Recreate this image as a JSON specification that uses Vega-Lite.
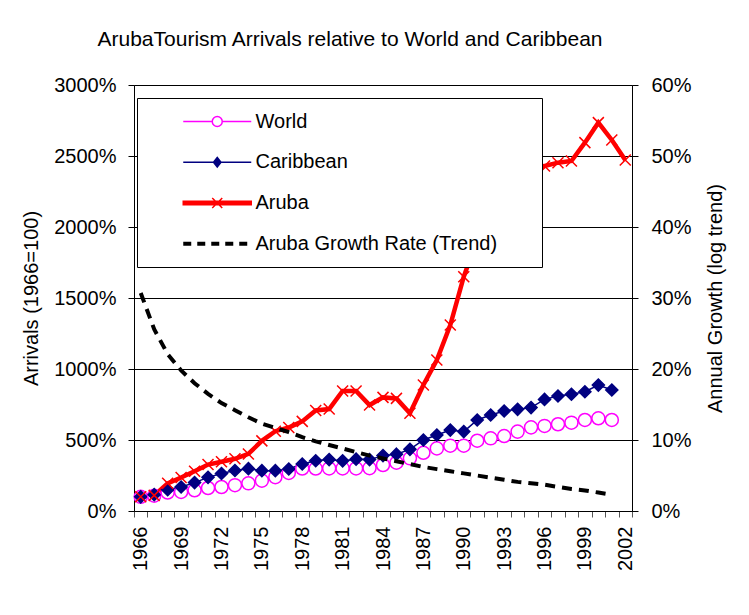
{
  "$schema": "https://vega.github.io/schema/vega-lite/v6.json",
  "width": 498,
  "height": 426,
  "autosize": {"type": "none"},
  "padding": {"left": 134, "top": 85, "right": 117, "bottom": 104},
  "background": "white",
  "title": {
    "text": "ArubaTourism Arrivals relative to World and  Caribbean",
    "fontSize": 21,
    "fontWeight": "normal",
    "color": "#000000",
    "anchor": "middle",
    "dx": -33,
    "offset": 25
  },
  "datasets": {
    "arrivals": [
      {"year": 1966, "World": 100, "Caribbean": 100, "Aruba": 100},
      {"year": 1967, "World": 108, "Caribbean": 115, "Aruba": 110},
      {"year": 1968, "World": 130, "Caribbean": 150, "Aruba": 195},
      {"year": 1969, "World": 134, "Caribbean": 169, "Aruba": 236},
      {"year": 1970, "World": 146, "Caribbean": 200, "Aruba": 280},
      {"year": 1971, "World": 162, "Caribbean": 237, "Aruba": 327},
      {"year": 1972, "World": 169, "Caribbean": 264, "Aruba": 347},
      {"year": 1973, "World": 182, "Caribbean": 285, "Aruba": 368},
      {"year": 1974, "World": 195, "Caribbean": 298, "Aruba": 402},
      {"year": 1975, "World": 214, "Caribbean": 284, "Aruba": 494},
      {"year": 1976, "World": 238, "Caribbean": 284, "Aruba": 562},
      {"year": 1977, "World": 268, "Caribbean": 296, "Aruba": 588},
      {"year": 1978, "World": 299, "Caribbean": 331, "Aruba": 631},
      {"year": 1979, "World": 299, "Caribbean": 354, "Aruba": 708},
      {"year": 1980, "World": 300, "Caribbean": 362, "Aruba": 718},
      {"year": 1981, "World": 300, "Caribbean": 353, "Aruba": 845},
      {"year": 1982, "World": 300, "Caribbean": 365, "Aruba": 845},
      {"year": 1983, "World": 302, "Caribbean": 362, "Aruba": 746},
      {"year": 1984, "World": 324, "Caribbean": 390, "Aruba": 800},
      {"year": 1985, "World": 340, "Caribbean": 400, "Aruba": 793},
      {"year": 1986, "World": 371, "Caribbean": 434, "Aruba": 688},
      {"year": 1987, "World": 410, "Caribbean": 500, "Aruba": 887},
      {"year": 1988, "World": 441, "Caribbean": 535, "Aruba": 1063},
      {"year": 1989, "World": 460, "Caribbean": 570, "Aruba": 1310},
      {"year": 1990, "World": 460, "Caribbean": 559, "Aruba": 1650},
      {"year": 1991, "World": 495, "Caribbean": 641, "Aruba": 1913},
      {"year": 1992, "World": 512, "Caribbean": 676, "Aruba": 2054},
      {"year": 1993, "World": 528, "Caribbean": 704, "Aruba": 2131},
      {"year": 1994, "World": 559, "Caribbean": 716, "Aruba": 2213},
      {"year": 1995, "World": 589, "Caribbean": 728, "Aruba": 2338},
      {"year": 1996, "World": 599, "Caribbean": 786, "Aruba": 2430},
      {"year": 1997, "World": 611, "Caribbean": 810, "Aruba": 2453},
      {"year": 1998, "World": 622, "Caribbean": 822, "Aruba": 2465},
      {"year": 1999, "World": 641, "Caribbean": 840, "Aruba": 2594},
      {"year": 2000, "World": 653, "Caribbean": 887, "Aruba": 2735},
      {"year": 2001, "World": 641, "Caribbean": 852, "Aruba": 2613},
      {"year": 2002, "Aruba": 2472}
    ],
    "trend": [
      {"year": 1966, "growth": 30.7},
      {"year": 1967, "growth": 25.6},
      {"year": 1968, "growth": 22.1},
      {"year": 1969, "growth": 19.8},
      {"year": 1970, "growth": 18.0},
      {"year": 1971, "growth": 16.5},
      {"year": 1972, "growth": 15.2},
      {"year": 1973, "growth": 14.2},
      {"year": 1974, "growth": 13.2},
      {"year": 1975, "growth": 12.3},
      {"year": 1976, "growth": 11.7},
      {"year": 1977, "growth": 11.1},
      {"year": 1978, "growth": 10.4},
      {"year": 1979, "growth": 9.8},
      {"year": 1980, "growth": 9.3},
      {"year": 1981, "growth": 8.8},
      {"year": 1982, "growth": 8.3},
      {"year": 1983, "growth": 7.8},
      {"year": 1984, "growth": 7.4},
      {"year": 1985, "growth": 7.0},
      {"year": 1986, "growth": 6.6},
      {"year": 1987, "growth": 6.2},
      {"year": 1988, "growth": 5.9},
      {"year": 1989, "growth": 5.6},
      {"year": 1990, "growth": 5.3},
      {"year": 1991, "growth": 5.0},
      {"year": 1992, "growth": 4.7},
      {"year": 1993, "growth": 4.4},
      {"year": 1994, "growth": 4.1},
      {"year": 1995, "growth": 3.9},
      {"year": 1996, "growth": 3.7},
      {"year": 1997, "growth": 3.4},
      {"year": 1998, "growth": 3.1},
      {"year": 1999, "growth": 2.9},
      {"year": 2000, "growth": 2.6},
      {"year": 2001, "growth": 2.3}
    ]
  },
  "encoding": {
    "x": {
      "field": "year",
      "type": "ordinal",
      "bandPosition": 0.5,
      "scale": {
        "type": "band",
        "domain": [1966, 1967, 1968, 1969, 1970, 1971, 1972, 1973, 1974, 1975, 1976, 1977, 1978, 1979, 1980, 1981, 1982, 1983, 1984, 1985, 1986, 1987, 1988, 1989, 1990, 1991, 1992, 1993, 1994, 1995, 1996, 1997, 1998, 1999, 2000, 2001, 2002],
        "paddingInner": 0,
        "paddingOuter": 0
      },
      "axis": {
        "title": null,
        "tickBand": "extent",
        "labelAngle": 270,
        "labelExpr": "(datum.value - 1966) % 3 === 0 ? datum.label : ''",
        "labelOverlap": false,
        "labelPadding": 9,
        "tickSize": 6,
        "tickColor": "#555555",
        "domainColor": "#000000",
        "grid": false
      }
    }
  },
  "layer": [
    {
      "data": {"name": "arrivals"},
      "transform": [
        {"fold": ["World", "Caribbean", "Aruba"], "as": ["series", "value"]},
        {"filter": "isValid(datum.value)"}
      ],
      "encoding": {
        "y": {
          "field": "value",
          "type": "quantitative",
          "scale": {"domain": [0, 3000], "nice": false},
          "axis": {
            "title": "Arrivals (1966=100)",
            "values": [0, 500, 1000, 1500, 2000, 2500, 3000],
            "labelExpr": "datum.value + '%'",
            "grid": true,
            "gridColor": "#000000",
            "gridWidth": 1,
            "domainColor": "#000000",
            "tickColor": "#000000",
            "tickSize": 6,
            "labelPadding": 12,
            "titlePadding": 12
          }
        },
        "color": {
          "field": "series",
          "type": "nominal",
          "scale": {
            "domain": ["World", "Caribbean", "Aruba", "Aruba Growth Rate (Trend)"],
            "range": ["#ff00ff", "#000080", "#ff0000", "#000000"]
          },
          "legend": {
            "title": null,
            "orient": "none",
            "legendX": 3,
            "legendY": 13,
            "padding": 12.5,
            "fillColor": "#ffffff",
            "strokeColor": "#000000",
            "symbolSize": 400,
            "symbolOffset": 56.75,
            "symbolStrokeWidth": 1.5,
            "labelOffset": 27.25,
            "labelFontSize": 20,
            "labelColor": "#000000",
            "labelLimit": 600,
            "rowPadding": 19.75,
            "zindex": 1,
            "encode": {
              "symbols": {
                "update": {
                  "shape": {"signal": "datum.value === 'World' ? 'M-3.4,0H-0.5M0.5,0H3.4M-0.5,0A0.5,0.5 0 1,0 0.5,0A0.5,0.5 0 1,0 -0.5,0ZM30.9,0' : datum.value === 'Caribbean' ? 'M-3.4,0H3.4M0,-0.476L0.374,0L0,0.476L-0.374,0ZM30.9,0' : datum.value === 'Aruba' ? 'M-3.4,-0.175H3.4V0.175H-3.4ZM-0.5,-0.5L0.5,0.5M-0.5,0.5L0.5,-0.5M30.9,0' : 'M-3.325,-0.126H-2.676V0.126H-3.325ZM-1.924,-0.126H-1.275V0.126H-1.924ZM-0.524,-0.126H0.126V0.126H-0.524ZM0.874,-0.126H1.527V0.126H0.874ZM2.275,-0.126H2.924V0.126H2.275ZM30.9,0'"},
                  "fill": {"signal": "datum.value === 'World' ? '#ffffff' : datum.value === 'Caribbean' ? '#000080' : datum.value === 'Aruba' ? '#ff0000' : '#000000'"},
                  "stroke": {"signal": "datum.value === 'World' ? '#ff00ff' : datum.value === 'Caribbean' ? '#000080' : datum.value === 'Aruba' ? '#ff0000' : '#000000'"},
                  "strokeWidth": {"value": 1.5},
                  "strokeDash": {"value": []},
                  "opacity": {"value": 1}
                }
              }
            }
          }
        }
      },
      "layer": [
        {
          "transform": [{"filter": "datum.series === 'World'"}],
          "mark": {"type": "line", "strokeWidth": 1.5}
        },
        {
          "transform": [{"filter": "datum.series === 'Caribbean'"}],
          "mark": {"type": "line", "strokeWidth": 1.5}
        },
        {
          "transform": [{"filter": "datum.series === 'Aruba'"}],
          "mark": {"type": "line", "strokeWidth": 4.5}
        },
        {
          "mark": {"type": "point", "opacity": 1, "strokeWidth": 1.5},
          "encoding": {
            "shape": {
              "field": "series",
              "type": "nominal",
              "scale": {"domain": ["World", "Caribbean", "Aruba"], "range": ["circle", "M0,-1L1,0L0,1L-1,0Z", "M-1,-1L1,1M-1,1L1,-1"]},
              "legend": null
            },
            "size": {
              "field": "series",
              "type": "nominal",
              "scale": {"domain": ["World", "Caribbean", "Aruba"], "range": [170, 121, 100]},
              "legend": null
            },
            "stroke": {
              "field": "series",
              "type": "nominal",
              "scale": {"domain": ["World", "Caribbean", "Aruba"], "range": ["#ff00ff", "#000080", "#ff0000"]},
              "legend": null
            },
            "fill": {
              "field": "series",
              "type": "nominal",
              "scale": {"domain": ["World", "Caribbean", "Aruba"], "range": ["#ffffff", "#000080", "transparent"]},
              "legend": null
            }
          }
        }
      ]
    },
    {
      "data": {"name": "trend"},
      "mark": {"type": "line", "strokeDash": [10, 7], "strokeWidth": 4},
      "encoding": {
        "y": {
          "field": "growth",
          "type": "quantitative",
          "scale": {"domain": [0, 60], "nice": false},
          "axis": {
            "orient": "right",
            "title": "Annual Growth (log trend)",
            "titleAngle": 270,
            "values": [0, 10, 20, 30, 40, 50, 60],
            "labelExpr": "datum.value + '%'",
            "grid": false,
            "domainColor": "#000000",
            "tickColor": "#000000",
            "tickSize": 6,
            "labelPadding": 13,
            "titlePadding": 34
          }
        },
        "color": {"datum": "Aruba Growth Rate (Trend)"}
      }
    }
  ],
  "resolve": {"scale": {"y": "independent"}},
  "config": {
    "font": "Liberation Sans",
    "view": {"stroke": "#808080"},
    "axis": {
      "labelFontSize": 20,
      "titleFontSize": 20,
      "titleFontWeight": "normal",
      "labelColor": "#000000",
      "titleColor": "#000000"
    },
    "legend": {"labelFont": "Liberation Sans"}
  }
}
